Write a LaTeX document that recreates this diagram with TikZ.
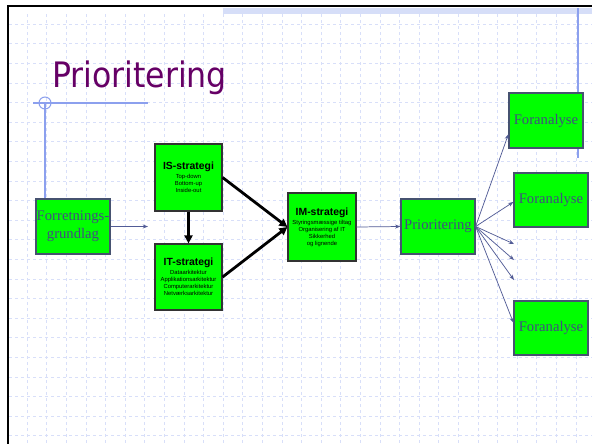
\documentclass[tikz,border=0pt]{standalone}
\usepackage{fontspec}
\setmainfont{Liberation Serif}
\newfontfamily\arialf{Liberation Sans}
\newfontfamily\titlef{DejaVu Sans Condensed}
\usetikzlibrary{arrows.meta}
\definecolor{gridc}{RGB}{216,223,249}
\definecolor{bandc}{RGB}{214,222,248}
\definecolor{guidec}{RGB}{140,160,238}
\definecolor{titlec}{RGB}{102,0,102}
\definecolor{boxgreen}{RGB}{0,255,0}
\definecolor{boxb}{RGB}{70,82,112}
\definecolor{textc}{RGB}{66,78,130}
\definecolor{arrowc}{RGB}{82,92,150}
\tikzset{
  gridline/.style={draw=gridc, line width=0.45pt, dash pattern=on 2.5pt off 2pt},
  guide/.style={draw=guidec, line width=0.8pt},
  serifbox/.style={draw=boxb, fill=boxgreen, line width=0.9pt, inner sep=0pt,
     minimum width=55.5pt, minimum height=41.25pt, align=center, text=textc,
     font=\fontsize{11}{13.5}\selectfont},
  stratbox/.style={draw=black!80, fill=boxgreen, line width=0.9pt, inner sep=0pt,
     minimum width=50.25pt, minimum height=50.25pt, align=center, text=black,
     font=\arialf\fontsize{4.4}{5.25}\selectfont},
  thinarrow/.style={draw=arrowc, line width=0.55pt, -{Stealth[length=4pt,width=3pt]}},
  thickarrow/.style={draw=black, line width=2.1pt, -{Triangle[length=6pt,width=6pt]}},
}
\newcommand{\stitle}[1]{{\fontsize{7.8}{5.25}\selectfont\bfseries #1}\\[1.6pt]}
\begin{document}
\begin{tikzpicture}[x=0.75pt,y=-0.75pt]
\useasboundingbox (0,0) rectangle (592,444);
\fill[white] (0,0) rectangle (592,444);
% grid
\foreach \i in {0,...,28} \draw[gridline] ({27+19.6*\i},14) -- ({27+19.6*\i},444);
\foreach \j in {0,...,21} \draw[gridline] (9,{24+19.6*\j}) -- (592,{24+19.6*\j});
% top band
\fill[bandc] (223,8) rectangle (592,14);
% frame
\draw[black, line width=2pt] (7,6) -- (592,6);
\draw[black, line width=2pt] (8,6) -- (8,444);
% title
\node[anchor=base west, inner sep=0pt, text=titlec, font=\titlef\fontsize{26.3}{30}\selectfont] (title) at (52,87) {Prioritering};
% guides
\coordinate (gc) at (45,103);
\draw[guide] (33,103) -- (148,103);
\draw[guide] (gc) circle[radius=6];
\draw[guide] (578,8) -- (578,158);
% boxes
\node[serifbox] (forr) at (73,226.5) {Forretnings-\\grundlag};
\node[stratbox] (is) at (188.5,177.5) {\stitle{IS-strategi}Top-down\\Bottom-up\\Inside-out};
\node[stratbox, minimum height=49.5pt] (it) at (188.5,277) {\stitle{IT-strategi}Dataarkitektur\\Applikationsarkitektur\\Computerarkitektur\\Netværksarkitektur};
\node[stratbox, minimum width=51pt, minimum height=51pt] (im) at (322,227) {\stitle{IM-strategi}Styringsmæssige tiltag\\Organisering af IT\\Sikkerhed\\og lignende};
\node[serifbox] (prio) at (438,226.5) {Prioritering};
\node[serifbox] (f1) at (546,120.5) {Foranalyse};
\node[serifbox, minimum height=40.5pt] (f2) at (551,200) {Foranalyse};
\node[serifbox, minimum height=40.5pt] (f3) at (551,328) {Foranalyse};
\draw[guide] (gc) -- (gc |- forr.north);
% connectors
\coordinate (forrEnd) at (148,226.5);
\coordinate (e1) at (514,244);
\coordinate (e2) at (514,260);
\coordinate (e3) at (514,280);
\draw[thinarrow] (forr.east) -- (forrEnd);
\draw[thickarrow] (is.south) -- (it.north);
\draw[thickarrow] (is.east) -- (im.west);
\draw[thickarrow] (it.east) -- (im.west);
\draw[thinarrow] (im.east) -- (prio.west);
\draw[thinarrow] (prio.east) -- (f1.200);
\draw[thinarrow] (prio.east) -- (f2.183);
\draw[thinarrow] (prio.east) -- (e1);
\draw[thinarrow] (prio.east) -- (e2);
\draw[thinarrow] (prio.east) -- (e3);
\draw[thinarrow] (prio.east) -- (f3.172);
\end{tikzpicture}
\end{document}
